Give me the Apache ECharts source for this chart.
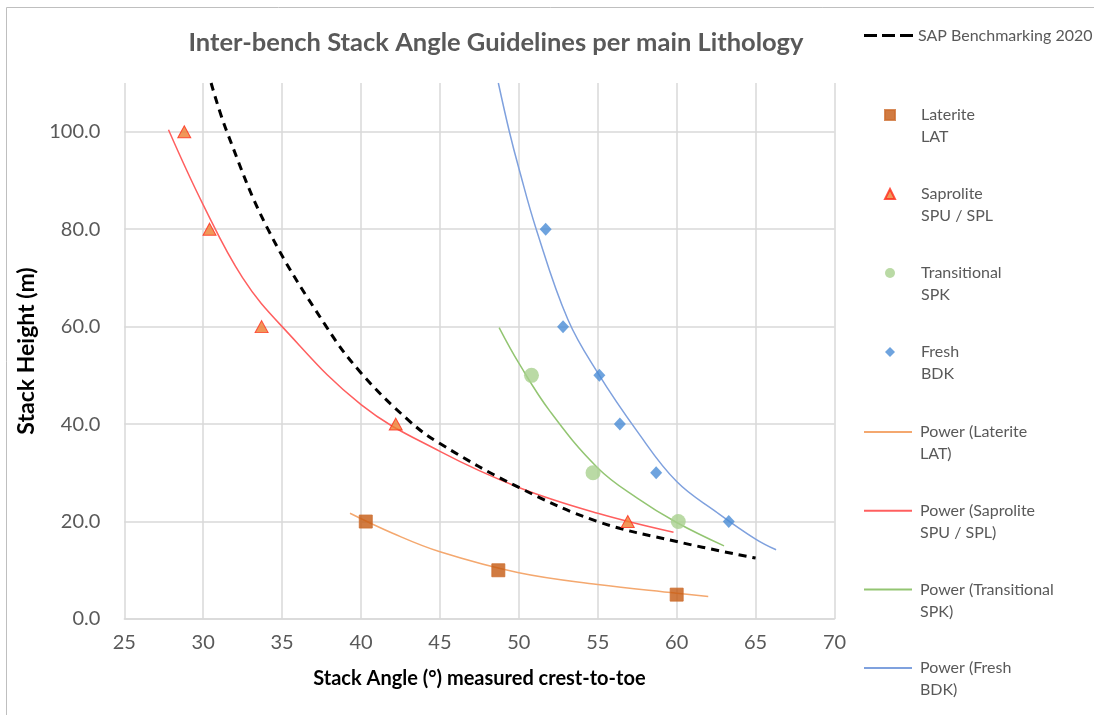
<!DOCTYPE html>
<html>
<head>
<meta charset="utf-8">
<title>Inter-bench Stack Angle Guidelines</title>
<script src="https://cdn.jsdelivr.net/npm/echarts@6.0.0/dist/echarts.min.js"></script>
<style>
html, body { margin: 0; padding: 0; background: #fff; }
#chart { width: 1094px; height: 715px; }
</style>
</head>
<body>
<div id="chart"></div>
<script>
// measured points (stack angle deg, stack height m)
var lateriteAngle = [40.3, 48.7, 60.0];
var lateriteHeight = [20, 10, 5];
var saproliteAngle = [28.8, 30.4, 33.7, 42.2, 56.9];
var saproliteHeight = [100, 80, 60, 40, 20];
var transitionalAngle = [50.8, 54.7, 60.1];
var transitionalHeight = [50, 30, 20];
var freshAngle = [51.7, 52.8, 55.1, 56.4, 58.7, 63.3];
var freshHeight = [80, 60, 50, 40, 30, 20];

// curves
var sapAngle = [30.5, 31.5, 34.1, 37.8, 40, 43, 45, 50, 55, 60, 65];
var sapHeight = [110, 100, 80, 60, 50.5, 40.8, 36, 27, 20, 15.9, 12.5];
var latTrendAngle = [39.3, 42, 45, 50, 55, 60, 62];
var latTrendHeight = [21.7, 17.6, 13.8, 9.5, 7.1, 5.3, 4.6];
var sapTrendAngle = [27.8, 30, 32.5, 35, 40, 45, 50, 55, 59.8];
var sapTrendHeight = [100.4, 85, 70, 60, 44, 34.4, 27, 21.7, 17.8];
var traTrendAngle = [48.75, 50, 52, 55, 57.5, 60, 63];
var traTrendHeight = [59.8, 52.5, 42.5, 31, 24.8, 19.8, 15];
var freTrendAngle = [48.7, 49.4, 50, 51.1, 53.1, 55, 57.5, 60, 62.5, 65, 66.3];
var freTrendHeight = [110, 100, 92.5, 80, 61.5, 50.5, 38.5, 28.2, 22, 16.4, 14.2];

function pairs(xs, ys) {
    return xs.map(function (x, i) { return [x, ys[i]]; });
}

var chart = echarts.init(document.getElementById('chart'));

var legendText = {
    color: '#595959',
    fontSize: 16,
    fontFamily: 'Lato',
    lineHeight: 22,
    backgroundColor: 'transparent'
};

// empty first line so the name's first line sits level with the icon
function firstLineOnIcon(name) {
    return '\n' + name;
}

function trend(name, xs, ys, color) {
    return {
        name: name,
        type: 'line',
        data: pairs(xs, ys),
        smooth: 0.4,
        symbol: 'none',
        color: color,
        lineStyle: { color: color, width: 1.5 },
        z: 2
    };
}

var option = {
    animation: false,
    backgroundColor: '#fff',
    title: {
        text: 'Inter-bench Stack Angle Guidelines per main Lithology',
        left: 491,
        textAlign: 'center',
        top: 25,
        textStyle: { color: '#595959', fontSize: 25.5, fontWeight: 'bold', fontFamily: 'Lato' }
    },
    graphic: [{
        type: 'rect',
        shape: { x: 6.5, y: 7.5, width: 1200, height: 800 },
        style: { fill: 'none', stroke: '#bfbfbf', lineWidth: 1 },
        silent: true
    }],
    legend: [{
        left: 864,
        top: 27.5,
        padding: 0,
        selectedMode: false,
        itemWidth: 49,
        itemHeight: 3,
        data: [{
            name: 'SAP Benchmarking 2020',
            icon: 'path://M0,0h13v3h-13z M18,0h13v3h-13z M36,0h13v3h-13z',
            itemStyle: { color: '#000' }
        }],
        textStyle: { color: '#595959', fontSize: 16, fontFamily: 'Lato' }
    }, {
        left: 884,
        top: 82,
        padding: 0,
        orient: 'vertical',
        selectedMode: false,
        itemWidth: 10,
        itemHeight: 10,
        itemGap: 13,
        formatter: firstLineOnIcon,
        data: ['Laterite\nLAT', 'Saprolite\nSPU / SPL', 'Transitional\nSPK', 'Fresh\nBDK'],
        textStyle: Object.assign({ padding: [0, 0, 0, 21] }, legendText)
    }, {
        left: 864,
        top: 399,
        padding: 0,
        orient: 'vertical',
        selectedMode: false,
        itemWidth: 48,
        itemHeight: 2,
        itemGap: 12.7,
        formatter: firstLineOnIcon,
        data: [
            { name: 'Power (Laterite\nLAT)', icon: 'rect', itemStyle: { color: '#f4a86f' } },
            { name: 'Power (Saprolite\nSPU / SPL)', icon: 'rect', itemStyle: { color: '#ff5f5f' } },
            { name: 'Power (Transitional\nSPK)', icon: 'rect', itemStyle: { color: '#93c572' } },
            { name: 'Power (Fresh\nBDK)', icon: 'rect', itemStyle: { color: '#7fa1de' } }
        ],
        textStyle: Object.assign({ padding: [0, 0, 0, 3] }, legendText)
    }],
    grid: { left: 124.3, right: 259.5, top: 83, bottom: 96, containLabel: false },
    xAxis: {
        type: 'value',
        min: 25,
        max: 70,
        interval: 5,
        name: 'Stack Angle (°) measured crest-to-toe',
        nameLocation: 'middle',
        nameGap: 50,
        nameTextStyle: { color: '#000', fontSize: 20, fontWeight: 'bold', fontFamily: 'Lato' },
        axisLine: { show: true, lineStyle: { color: '#d9d9d9', width: 1.5 } },
        axisTick: { show: false },
        axisLabel: { color: '#595959', fontSize: 20, fontFamily: 'Lato', margin: 14 },
        splitLine: { show: true, lineStyle: { color: '#d9d9d9', width: 1.5 } }
    },
    yAxis: {
        type: 'value',
        min: 0,
        max: 110,
        interval: 20,
        name: 'Stack Height (m)',
        nameLocation: 'middle',
        nameGap: 83,
        nameTextStyle: { color: '#000', fontSize: 23, fontWeight: 'bold', fontFamily: 'Lato' },
        axisLine: { show: false },
        axisTick: { show: false },
        axisLabel: {
            color: '#595959', fontSize: 20, fontFamily: 'Lato', margin: 24,
            showMaxLabel: false,
            formatter: function (v) { return v.toFixed(1); }
        },
        splitLine: { show: true, showMaxLine: false, lineStyle: { color: '#d9d9d9', width: 1.5 } }
    },
    series: [
        {
            name: 'SAP Benchmarking 2020',
            type: 'line',
            data: pairs(sapAngle, sapHeight),
            smooth: 0.4,
            symbol: 'none',
            color: '#000',
            lineStyle: { color: '#000', width: 3, type: [8, 6] },
            z: 3
        },
        trend('Power (Laterite\nLAT)', latTrendAngle, latTrendHeight, '#f4a86f'),
        trend('Power (Saprolite\nSPU / SPL)', sapTrendAngle, sapTrendHeight, '#ff5f5f'),
        trend('Power (Transitional\nSPK)', traTrendAngle, traTrendHeight, '#93c572'),
        trend('Power (Fresh\nBDK)', freTrendAngle, freTrendHeight, '#7fa1de'),
        {
            name: 'Laterite\nLAT',
            type: 'scatter',
            data: pairs(lateriteAngle, lateriteHeight),
            symbol: 'rect',
            symbolSize: 13,
            itemStyle: { color: '#c55a11', borderColor: '#cd6e30', borderWidth: 1 },
            z: 5
        },
        {
            name: 'Saprolite\nSPU / SPL',
            type: 'scatter',
            data: pairs(saproliteAngle, saproliteHeight),
            symbol: 'triangle',
            symbolSize: [13, 12],
            itemStyle: { color: '#ed7d31', borderColor: '#ff2a1a', borderWidth: 1 },
            z: 5
        },
        {
            name: 'Transitional\nSPK',
            type: 'scatter',
            data: pairs(transitionalAngle, transitionalHeight),
            symbol: 'circle',
            symbolSize: 15,
            itemStyle: { color: '#a9d18e' },
            z: 5
        },
        {
            name: 'Fresh\nBDK',
            type: 'scatter',
            data: pairs(freshAngle, freshHeight),
            symbol: 'diamond',
            symbolSize: [12, 13],
            itemStyle: { color: '#4a8cd6' },
            z: 5
        }
    ]
};

chart.setOption(option);
</script>
</body>
</html>
